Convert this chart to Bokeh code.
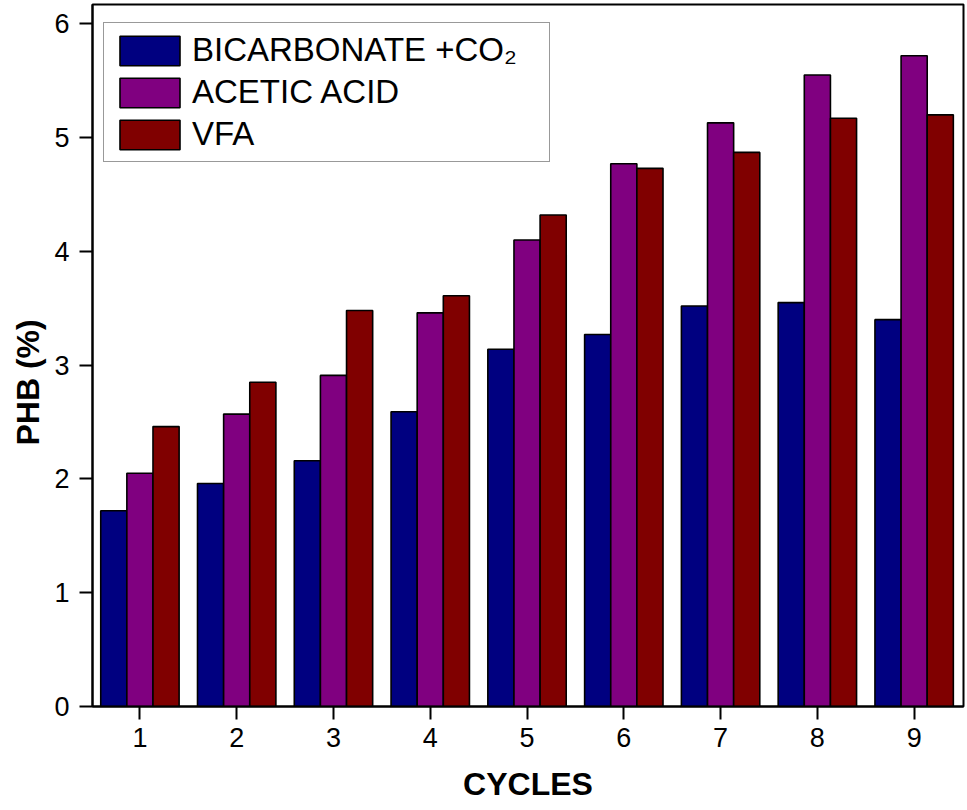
from bokeh.plotting import figure
from bokeh.models import ColumnDataSource, FixedTicker, Range1d, Title
from bokeh.transform import dodge
from bokeh.embed import file_html
from bokeh.resources import INLINE

cycles = [1, 2, 3, 4, 5, 6, 7, 8, 9]
bicarbonate = [1.72, 1.96, 2.16, 2.59, 3.14, 3.27, 3.52, 3.55, 3.40]
acetic = [2.05, 2.57, 2.91, 3.46, 4.10, 4.77, 5.13, 5.55, 5.72]
vfa = [2.46, 2.85, 3.48, 3.61, 4.32, 4.73, 4.87, 5.17, 5.20]
series_labels = ["BICARBONATE +CO\u2082", "ACETIC ACID", "VFA"]
colors = ["#000080", "#800080", "#800000"]
y_ticks = [0, 1, 2, 3, 4, 5, 6]

src = ColumnDataSource(dict(cycle=cycles, b=bicarbonate, a=acetic, v=vfa))

FONT = "Liberation Sans"

p = figure(width=965, height=810, output_backend="svg", toolbar_location=None,
           x_range=Range1d(0.51, 9.51), y_range=Range1d(0, 6.17),
           min_border_left=92, min_border_right=2, min_border_top=4, min_border_bottom=104)

bw = 0.27
for col, off, color, lab in zip(["b", "a", "v"], [-bw, 0, bw], colors, series_labels):
    p.vbar(x=dodge("cycle", off, range=p.x_range), top=col, width=bw, bottom=0,
           source=src, fill_color=color, line_color="black", line_width=1.6,
           legend_label=lab)

p.grid.visible = False
p.outline_line_color = "black"
p.outline_line_width = 2
p.background_fill_color = "white"
p.border_fill_color = "white"

p.xaxis.ticker = FixedTicker(ticks=cycles)
p.yaxis.ticker = FixedTicker(ticks=y_ticks)
for ax in (p.xaxis, p.yaxis):
    ax.axis_line_width = 2
    ax.axis_line_color = "black"
    ax.major_tick_line_width = 2
    ax.major_tick_line_color = "black"
    ax.major_tick_in = 0
    ax.major_tick_out = 13
    ax.minor_tick_line_color = None
    ax.major_label_text_font = FONT
    ax.major_label_text_color = "black"
    ax.major_label_text_font_size = "27px"
    ax.axis_label_text_font = FONT
    ax.axis_label_text_font_style = "bold"
    ax.axis_label_text_font_size = "32px"
    ax.axis_label_text_color = "black"

p.xaxis.major_label_standoff = 8
p.yaxis.major_label_standoff = 10
p.xaxis.axis_label = "CYCLES"
p.xaxis.axis_label_standoff = 16

ytitle = Title(text="PHB (%)", align="left", offset=261, standoff=11,
               text_font=FONT, text_font_style="bold", text_font_size="32px",
               text_color="black")
p.add_layout(ytitle, "left")

lg = p.legend[0]
lg.location = (11, 544)
lg.label_text_font = FONT
lg.label_text_font_size = "33px"
lg.label_text_color = "black"
lg.glyph_width = 75
lg.glyph_height = 37
lg.label_height = 37
lg.label_width = 349
lg.label_standoff = 5
lg.padding = 8
lg.spacing = 4
lg.margin = 0
lg.border_line_color = "#333333"
lg.border_line_width = 1.5
lg.background_fill_color = "white"
lg.background_fill_alpha = 1

open("out.html", "w").write(file_html(p, INLINE))
